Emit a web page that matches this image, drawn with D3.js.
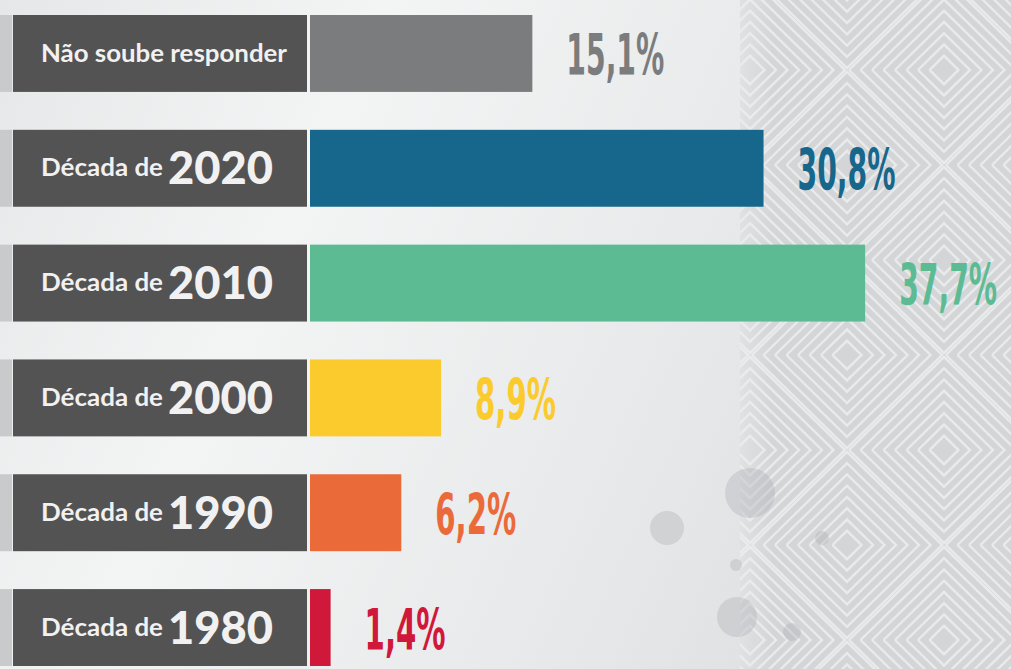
<!DOCTYPE html>
<html>
<head>
<meta charset="utf-8">
<script src="https://cdn.jsdelivr.net/npm/d3@7"></script>
<style>
  html, body { margin: 0; padding: 0; background: #eceded; overflow: hidden; }
</style>
</head>
<body>
<script>
const svgWidth = 1011,
    svgHeight = 669;

// data
const categories = ["Não soube responder", "Década de 2020", "Década de 2010", "Década de 2000", "Década de 1990", "Década de 1980"];
const values = [15.1, 30.8, 37.7, 8.9, 6.2, 1.4];
const valueLabels = ["15,1%", "30,8%", "37,7%", "8,9%", "6,2%", "1,4%"];
const palette = ["#7b7c7e", "#17668b", "#5dbb94", "#fbcb2d", "#ea6a3a", "#d0193a"];

var svg = d3.select("body").append("svg")
    .attr("width", svgWidth)
    .attr("height", svgHeight);

var defs = svg.append("defs");

// background gradient
var bg = defs.append("linearGradient").attr("id", "bg")
    .attr("x1", "0").attr("y1", "0").attr("x2", "1").attr("y2", "0.3");
bg.append("stop").attr("offset", "0").attr("stop-color", "#e6e7e8");
bg.append("stop").attr("offset", "0.35").attr("stop-color", "#f3f4f4");
bg.append("stop").attr("offset", "0.75").attr("stop-color", "#e8e9ea");
bg.append("stop").attr("offset", "1").attr("stop-color", "#dfe0e1");

// nested diamonds pattern on the right side
var tw = 194, th = 190, ring = 11.5;
var pat = defs.append("pattern").attr("id", "zig")
    .attr("patternUnits", "userSpaceOnUse")
    .attr("x", 750).attr("y", 70)
    .attr("width", tw).attr("height", th);
pat.append("rect").attr("width", tw).attr("height", th).attr("fill", "#d3d5d7");
var centers = [[0, 0], [tw, 0], [0, th], [tw, th], [tw / 2, th / 2]];
centers.forEach(function (c) {
    for (var k = 0; k < 9; k++) {
        var hw = tw / 2 - 2 - k * ring, hh = hw * th / tw;
        if (hw < 8) break;
        pat.append("path")
            .attr("d", d3.line()([[c[0] - hw, c[1]], [c[0], c[1] - hh], [c[0] + hw, c[1]], [c[0], c[1] + hh], [c[0] - hw, c[1]]]))
            .attr("fill", "none").attr("stroke", "#eceeef").attr("stroke-width", 2.4).attr("opacity", 0.85);
    }
});

var fade = defs.append("linearGradient").attr("id", "fade")
    .attr("x1", "0").attr("y1", "0").attr("x2", "1").attr("y2", "0");
fade.append("stop").attr("offset", "0").attr("stop-color", "#eceded").attr("stop-opacity", 0.5);
fade.append("stop").attr("offset", "0.12").attr("stop-color", "#eceded").attr("stop-opacity", 0);

svg.append("rect").attr("width", svgWidth).attr("height", svgHeight).attr("fill", "url(#bg)");
svg.append("rect").attr("x", 740).attr("width", svgWidth - 740).attr("height", svgHeight).attr("fill", "url(#zig)");
svg.append("rect").attr("x", 740).attr("width", svgWidth - 740).attr("height", svgHeight).attr("fill", "url(#fade)");

// decorative bubbles
var bubbles = [[667, 528, 17], [750, 493, 25], [822, 538, 7], [736, 565, 6], [737, 617, 20], [792, 632, 9]];
svg.append("g").selectAll("circle").data(bubbles).enter().append("circle")
    .attr("cx", d => d[0]).attr("cy", d => d[1]).attr("r", d => d[2])
    .attr("fill", "#a9adb3").attr("opacity", 0.35);

// scales
var y = d3.scaleBand()
    .domain(categories)
    .range([15, 666])
    .paddingInner(0.33);

var x = d3.scaleLinear()
    .domain([0, 40])
    .range([310, 899]);

var color = d3.scaleOrdinal().domain(categories).range(palette);

var rows = svg.append("g").selectAll("g")
    .data(categories).enter()
    .append("g")
    .attr("transform", d => "translate(0," + y(d) + ")");

// light strip + dark label box
rows.append("rect").attr("x", 0).attr("width", 12).attr("height", y.bandwidth()).attr("fill", "#c9cacc");
rows.append("rect").attr("x", 13).attr("width", 294).attr("height", y.bandwidth()).attr("fill", "#545354");

// category labels
var labels = rows.append("text")
    .attr("x", 41)
    .attr("y", y.bandwidth() / 2 + 9)
    .attr("fill", "#f1f1f1")
    .style("font-family", "Lato, 'Open Sans', sans-serif")
    .style("font-weight", 700);

labels.each(function (d) {
    var t = d3.select(this);
    var m = d.match(/^(.*) (\d{4})$/);
    if (!m) {
        t.append("tspan").style("font-size", "25px").attr("textLength", 246).attr("lengthAdjust", "spacingAndGlyphs").text(d);
    } else {
        t.attr("y", y.bandwidth() / 2 + 8);
        t.append("tspan").style("font-size", "25px").attr("textLength", 122).attr("lengthAdjust", "spacingAndGlyphs").text(m[1]);
        t.append("tspan").attr("x", 168).attr("dy", 8).style("font-size", "46px").style("font-weight", 900)
            .attr("textLength", 105).attr("lengthAdjust", "spacingAndGlyphs").text(m[2]);
    }
});

// bars
rows.append("rect")
    .attr("x", x(0))
    .attr("width", (d, i) => x(values[i]) - x(0))
    .attr("height", y.bandwidth())
    .attr("fill", d => color(d));

// value labels, squeezed horizontally to look like a condensed face
rows.append("text")
    .attr("fill", d => color(d))
    .style("font-family", "'Liberation Sans Narrow', 'DejaVu Sans Condensed', sans-serif")
    .style("font-weight", 700)
    .style("font-size", "57px")
    .text((d, i) => valueLabels[i])
    .each(function (d, i) {
        var want = valueLabels[i].length === 5 ? 98 : 81;
        var sx = want / this.getComputedTextLength();
        d3.select(this).attr("transform",
            "translate(" + (x(values[i]) + 34) + "," + (y.bandwidth() / 2 + 22) + ") scale(" + sx + ",1)");
    });
</script>
</body>
</html>
